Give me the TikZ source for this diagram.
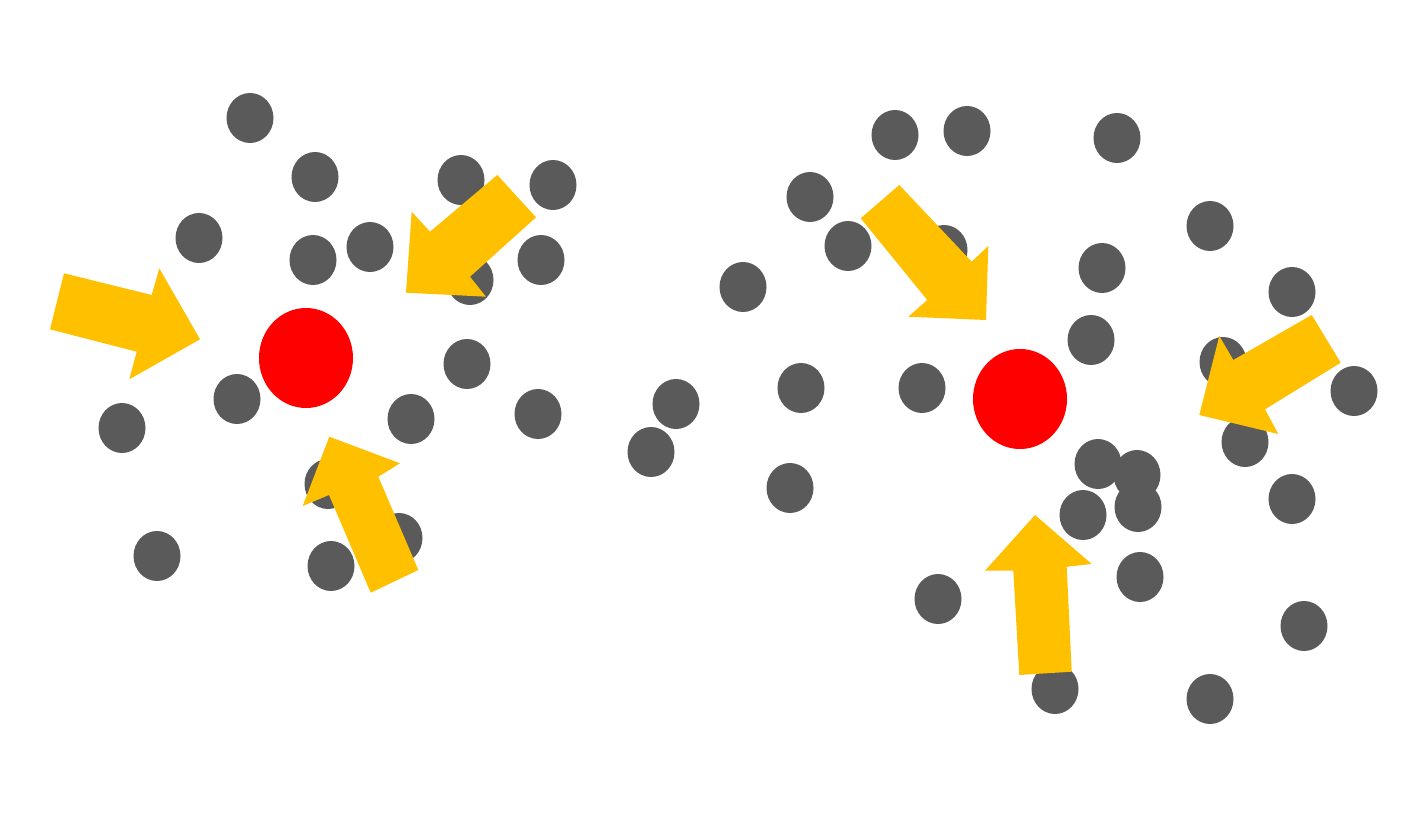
\documentclass[tikz,border=0pt]{standalone}
\definecolor{dotgray}{HTML}{5A5A5A}
\definecolor{arrowyellow}{HTML}{FFC000}
\definecolor{targetred}{HTML}{FF0000}
\tikzset{
  dot/.style={fill=dotgray, draw=none},
  target/.style={fill=targetred, draw=none},
  blockarrow/.style={fill=arrowyellow, draw=none}
}
\begin{document}
\begin{tikzpicture}[x=1pt,y=-1pt]
\useasboundingbox (0,0) rectangle (1416,826);
\fill[white] (0,0) rectangle (1416,826);
% gray particles
\foreach \px/\py in {
  250/118, 315/177, 461/180, 553/185, 199/238, 313/260, 370/247, 541/260,
  470/280, 467/364, 237/399, 122/428, 411/419, 538/414, 328/484, 399/538,
  157/556, 331/566,
  676/404, 651/452,
  895/135, 967/131, 1117/138, 810/197, 848/246, 944/250, 1210/226, 743/287,
  1102/268, 1292/292, 1091/340, 801/388, 922/388, 1223/362, 1354/391,
  1245/442, 1098/464, 1137/475, 1138/507, 1083/515, 1292/499, 790/488,
  1140/577, 938/599, 1304/626, 1055/689, 1210/699}
  \fill[dot] (\px,\py) ellipse [x radius=23.5, y radius=25];
% red targets
\fill[target] (306,358) ellipse [x radius=47, y radius=50];
\fill[target] (1020,399) ellipse [x radius=47, y radius=50];
% yellow arrows, left
\fill[blockarrow] (64,273.3) -- (151.7,295) -- (159.3,268.3) -- (200,339.3)
  -- (129.3,379.3) -- (136.7,351.7) -- (50,329.3) -- cycle;
\fill[blockarrow] (497.3,175) -- (536,217.3) -- (470,276.7) -- (486,296.7)
  -- (406,292.7) -- (411.7,211.7) -- (430,231.7) -- cycle;
\fill[blockarrow] (329.3,436.7) -- (400,463.3) -- (378.3,476.7) -- (418.3,570)
  -- (370.7,592.7) -- (329,495) -- (302.7,506) -- cycle;
% yellow arrows, right
\fill[blockarrow] (899.3,185) -- (971.7,261.7) -- (988.3,246) -- (986,320)
  -- (908.3,316.7) -- (927.3,300) -- (860.7,218.3) -- cycle;
\fill[blockarrow] (1311.7,315) -- (1340.7,362.7) -- (1265,409.3) -- (1278.3,434)
  -- (1199.3,415) -- (1219.3,336) -- (1233.3,360) -- cycle;
\fill[blockarrow] (1035,515) -- (1091.7,564) -- (1066.7,566.7) -- (1071.7,671.7)
  -- (1019.3,675) -- (1013.3,570.7) -- (985,570.7) -- cycle;
\end{tikzpicture}
\end{document}
